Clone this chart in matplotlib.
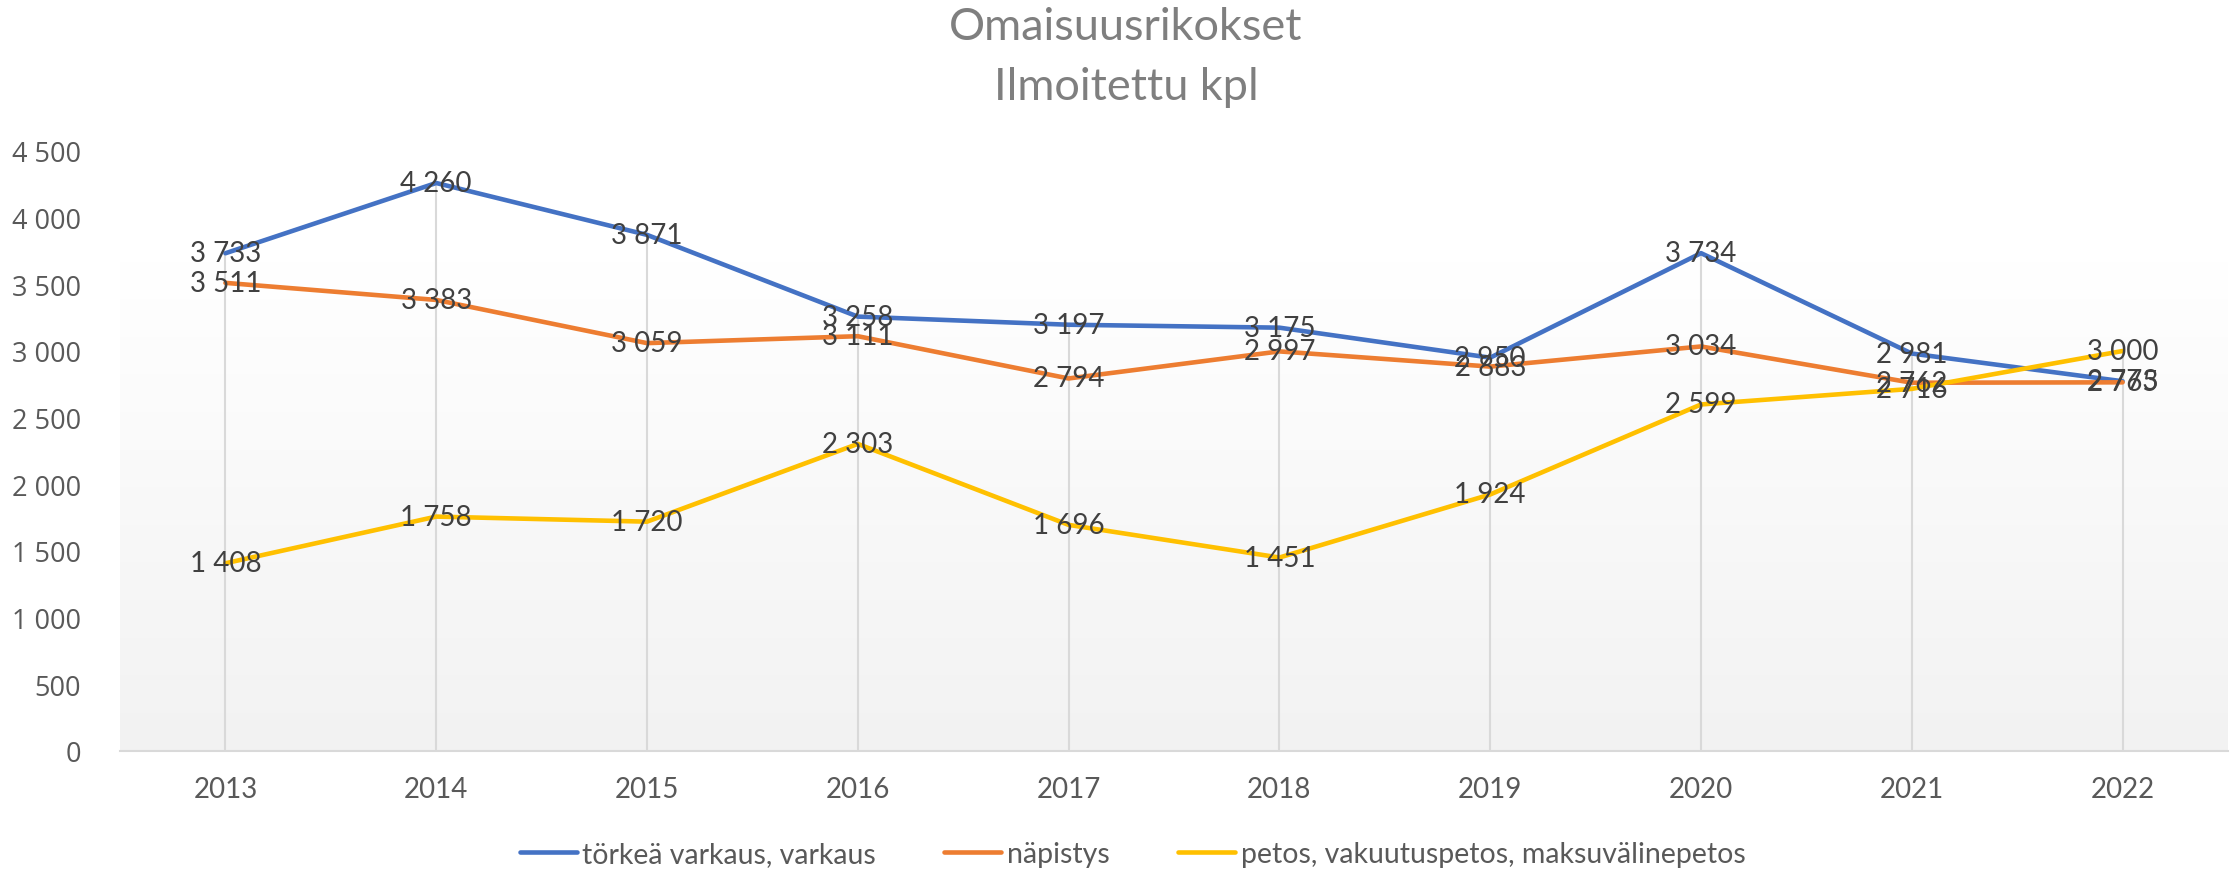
import matplotlib
matplotlib.use("Agg")
import matplotlib.pyplot as plt
import numpy as np
from matplotlib.colors import LinearSegmentedColormap

years = ['2013', '2014', '2015', '2016', '2017', '2018', '2019', '2020', '2021', '2022']
torkea_varkaus = [3733, 4260, 3871, 3258, 3197, 3175, 2950, 3734, 2981, 2773]
napistys = [3511, 3383, 3059, 3111, 2794, 2997, 2883, 3034, 2762, 2765]
petos = [1408, 1758, 1720, 2303, 1696, 1451, 1924, 2599, 2716, 3000]
series_names = ['törkeä varkaus, varkaus', 'näpistys', 'petos, vakuutuspetos, maksuvälinepetos']
colors = ['#4472C4', '#ED7D31', '#FFC000']
yticks = [0, 500, 1000, 1500, 2000, 2500, 3000, 3500, 4000, 4500]


def fmt(v):
    return f"{v:,}".replace(',', ' ')


plt.rcParams['font.family'] = ['Lato', 'DejaVu Sans']

fig = plt.figure(figsize=(22.34, 8.7), dpi=100)
ax = fig.add_axes([120 / 2234, 1 - 752 / 870, (2228 - 120) / 2234, 600 / 870])

x = np.arange(len(years))
ax.set_xlim(-0.5, len(years) - 0.5)
ax.set_ylim(0, 4500)

# plot area gradient (grey at bottom, fading to white)
cmap = LinearSegmentedColormap.from_list('bg', ['#f2f2f2', '#ffffff'])
grad = np.linspace(0, 1, 256).reshape(-1, 1)
ax.imshow(grad, extent=[-0.5, len(years) - 0.5, 0, 3670], aspect='auto',
          cmap=cmap, origin='lower', zorder=0)

# drop lines from the highest point of each year
tops = np.max([torkea_varkaus, napistys, petos], axis=0)
ax.vlines(x, 0, tops, color='#d9d9d9', lw=1.5, zorder=1)

data = [torkea_varkaus, napistys, petos]
for vals, c, name in zip(data, colors, series_names):
    ax.plot(x, vals, color=c, lw=3.3, label=name, zorder=3, solid_capstyle='round')

for vals in data:
    for i, v in enumerate(vals):
        ax.text(i, v, fmt(v), ha='center', va='center', fontsize=20,
                color='#404040', zorder=4)

for s in ['top', 'right', 'left']:
    ax.spines[s].set_visible(False)
ax.spines['bottom'].set_color('#d9d9d9')
ax.spines['bottom'].set_linewidth(1.5)

ax.set_xticks(x)
ax.set_xticklabels(years, fontsize=20, color='#595959')
ax.set_yticks(yticks)
ax.set_yticklabels([fmt(v) for v in yticks], fontsize=19.5, color='#595959',
                   family=['Open Sans', 'DejaVu Sans'])
ax.tick_params(axis='x', length=0, pad=18)
ax.tick_params(axis='y', length=0, pad=28)

fig.text(0.504, 1 - 28 / 870, 'Omaisuusrikokset', ha='center', va='center',
         fontsize=32.5, color='#7f7f7f')
fig.text(0.504, 1 - 88 / 870, 'Ilmoitettu kpl', ha='center', va='center',
         fontsize=32.5, color='#7f7f7f')

fig.legend(loc='center', bbox_to_anchor=(0.507, 1 - 855 / 870), ncol=3,
           frameon=False, fontsize=20.5, handlelength=2.0, handletextpad=0.2,
           columnspacing=2.4, labelcolor='#595959')

fig.savefig('out.png', dpi=100)
